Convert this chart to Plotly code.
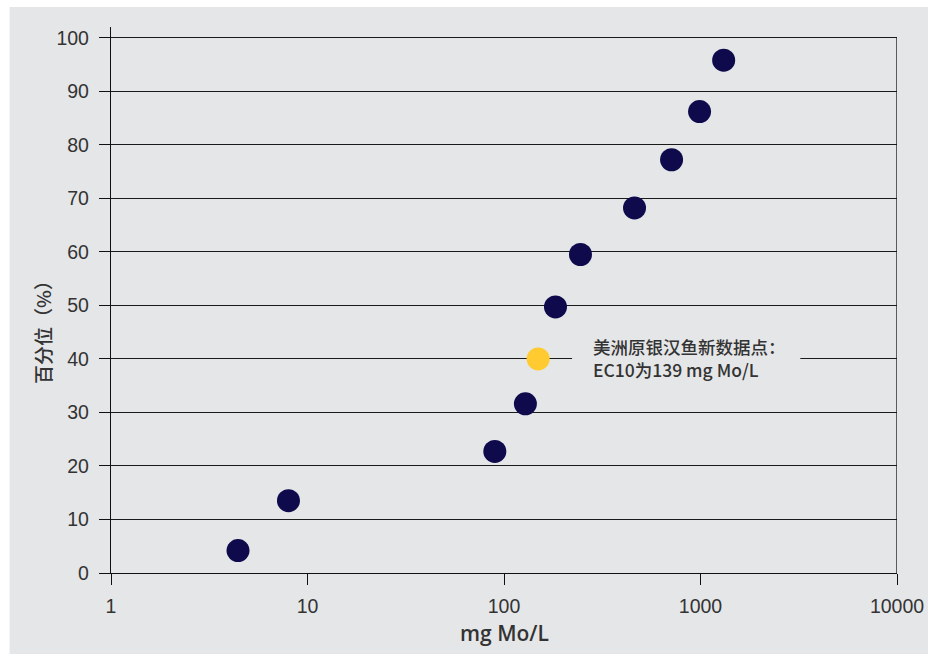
import plotly.graph_objects as go

# Data
conc_mg_mo_l = [4.43, 8.0, 89.8, 128.5, 182.8, 245, 461.6, 712.5, 989, 1312]
percentile = [4.2, 13.5, 22.7, 31.6, 49.7, 59.5, 68.2, 77.2, 86.2, 95.8]
new_conc = [149.2]
new_percentile = [40]

x_tickvals = [1, 10, 100, 1000, 10000]
x_ticktext = ["1", "10", "100", "1000", "10000"]
y_tickvals = [0, 10, 20, 30, 40, 50, 60, 70, 80, 90, 100]

note_line1 = "美洲原银汉鱼新数据点："
note_line2 = "EC10为139 mg Mo/L"
x_title = "mg Mo/L"
y_title = "百分位（%）"

BG = "#e5e6e8"
NAVY = "#0e0a4b"
YELLOW = "#ffcb30"
TXT = "#333333"
LABEL_FONT = "Liberation Sans, Arial, sans-serif"
CJK_FONT = "Noto Sans CJK SC, Noto Sans, sans-serif"

fig = go.Figure()
fig.add_trace(go.Scatter(x=conc_mg_mo_l, y=percentile, mode="markers",
                         marker=dict(size=23, color=NAVY, line=dict(width=0)),
                         showlegend=False, cliponaxis=False, hoverinfo="skip"))
fig.add_trace(go.Scatter(x=new_conc, y=new_percentile, mode="markers",
                         marker=dict(size=23, color=YELLOW, line=dict(width=0)),
                         showlegend=False, cliponaxis=False, hoverinfo="skip"))

# gray panel background
fig.add_shape(type="rect", xref="paper", yref="paper",
              x0=-0.129, x1=1.05, y0=-0.16, y1=1.0366,
              fillcolor=BG, line=dict(width=0), layer="below")
# right border line
fig.add_shape(type="line", xref="x", yref="y", x0=10000, x1=10000, y0=0, y1=100,
              line=dict(color="#111111", width=1.3))
# gap in the 40 gridline behind the note
fig.add_shape(type="rect", xref="x", yref="y", x0=222, x1=3220, y0=37.5, y1=42.5,
              fillcolor=BG, line=dict(width=0), layer="above")

fig.add_annotation(x=2.4437, y=42.3, xref="x", yref="y", text=note_line1,
                   showarrow=False, xanchor="left", yanchor="middle",
                   font=dict(family=CJK_FONT, size=17.5, color=TXT, weight=500))
fig.add_annotation(x=2.4437, y=38.0, xref="x", yref="y", text=note_line2,
                   showarrow=False, xanchor="left", yanchor="middle",
                   font=dict(family=CJK_FONT, size=17.5, color=TXT, weight=500))
fig.add_annotation(x=-0.087, y=0.45, xref="paper", yref="paper", text=y_title,
                   showarrow=False, textangle=-90, xanchor="center", yanchor="middle",
                   font=dict(family=CJK_FONT, size=19, color=TXT, weight=500))
fig.add_annotation(x=0.5, y=-0.109, xref="paper", yref="paper", text=x_title,
                   showarrow=False, xanchor="center", yanchor="middle",
                   font=dict(family="Open Sans, Noto Sans, sans-serif",
                             size=21, color=TXT, weight=600))

fig.update_xaxes(type="log", range=[0, 4], tickvals=x_tickvals, ticktext=x_ticktext,
                 showgrid=False, zeroline=False, showline=True, linecolor="#111111",
                 linewidth=1.3, ticks="outside", ticklen=11, tickwidth=1.3,
                 tickcolor="#111111", ticklabelstandoff=4, automargin=False,
                 tickfont=dict(family=LABEL_FONT, size=19.5, color=TXT))
fig.update_yaxes(range=[0, 102], tickvals=y_tickvals, showgrid=True,
                 gridcolor="#1a1a1a", gridwidth=1.2, zeroline=False, showline=True,
                 linecolor="#111111", linewidth=1.3, ticks="outside", ticklen=11,
                 tickwidth=1.3, tickcolor="#111111", ticklabelstandoff=6,
                 automargin=False,
                 tickfont=dict(family=LABEL_FONT, size=19.5, color=TXT))

fig.update_layout(width=928, height=654, paper_bgcolor="white",
                  plot_bgcolor="rgba(0,0,0,0)", hovermode=False,
                  margin=dict(l=111, r=31, t=27, b=81, autoexpand=False))
fig.write_html("out.html", config={"displayModeBar": False},
               post_script="document.body.style.margin='0';document.body.style.overflow='hidden';")
